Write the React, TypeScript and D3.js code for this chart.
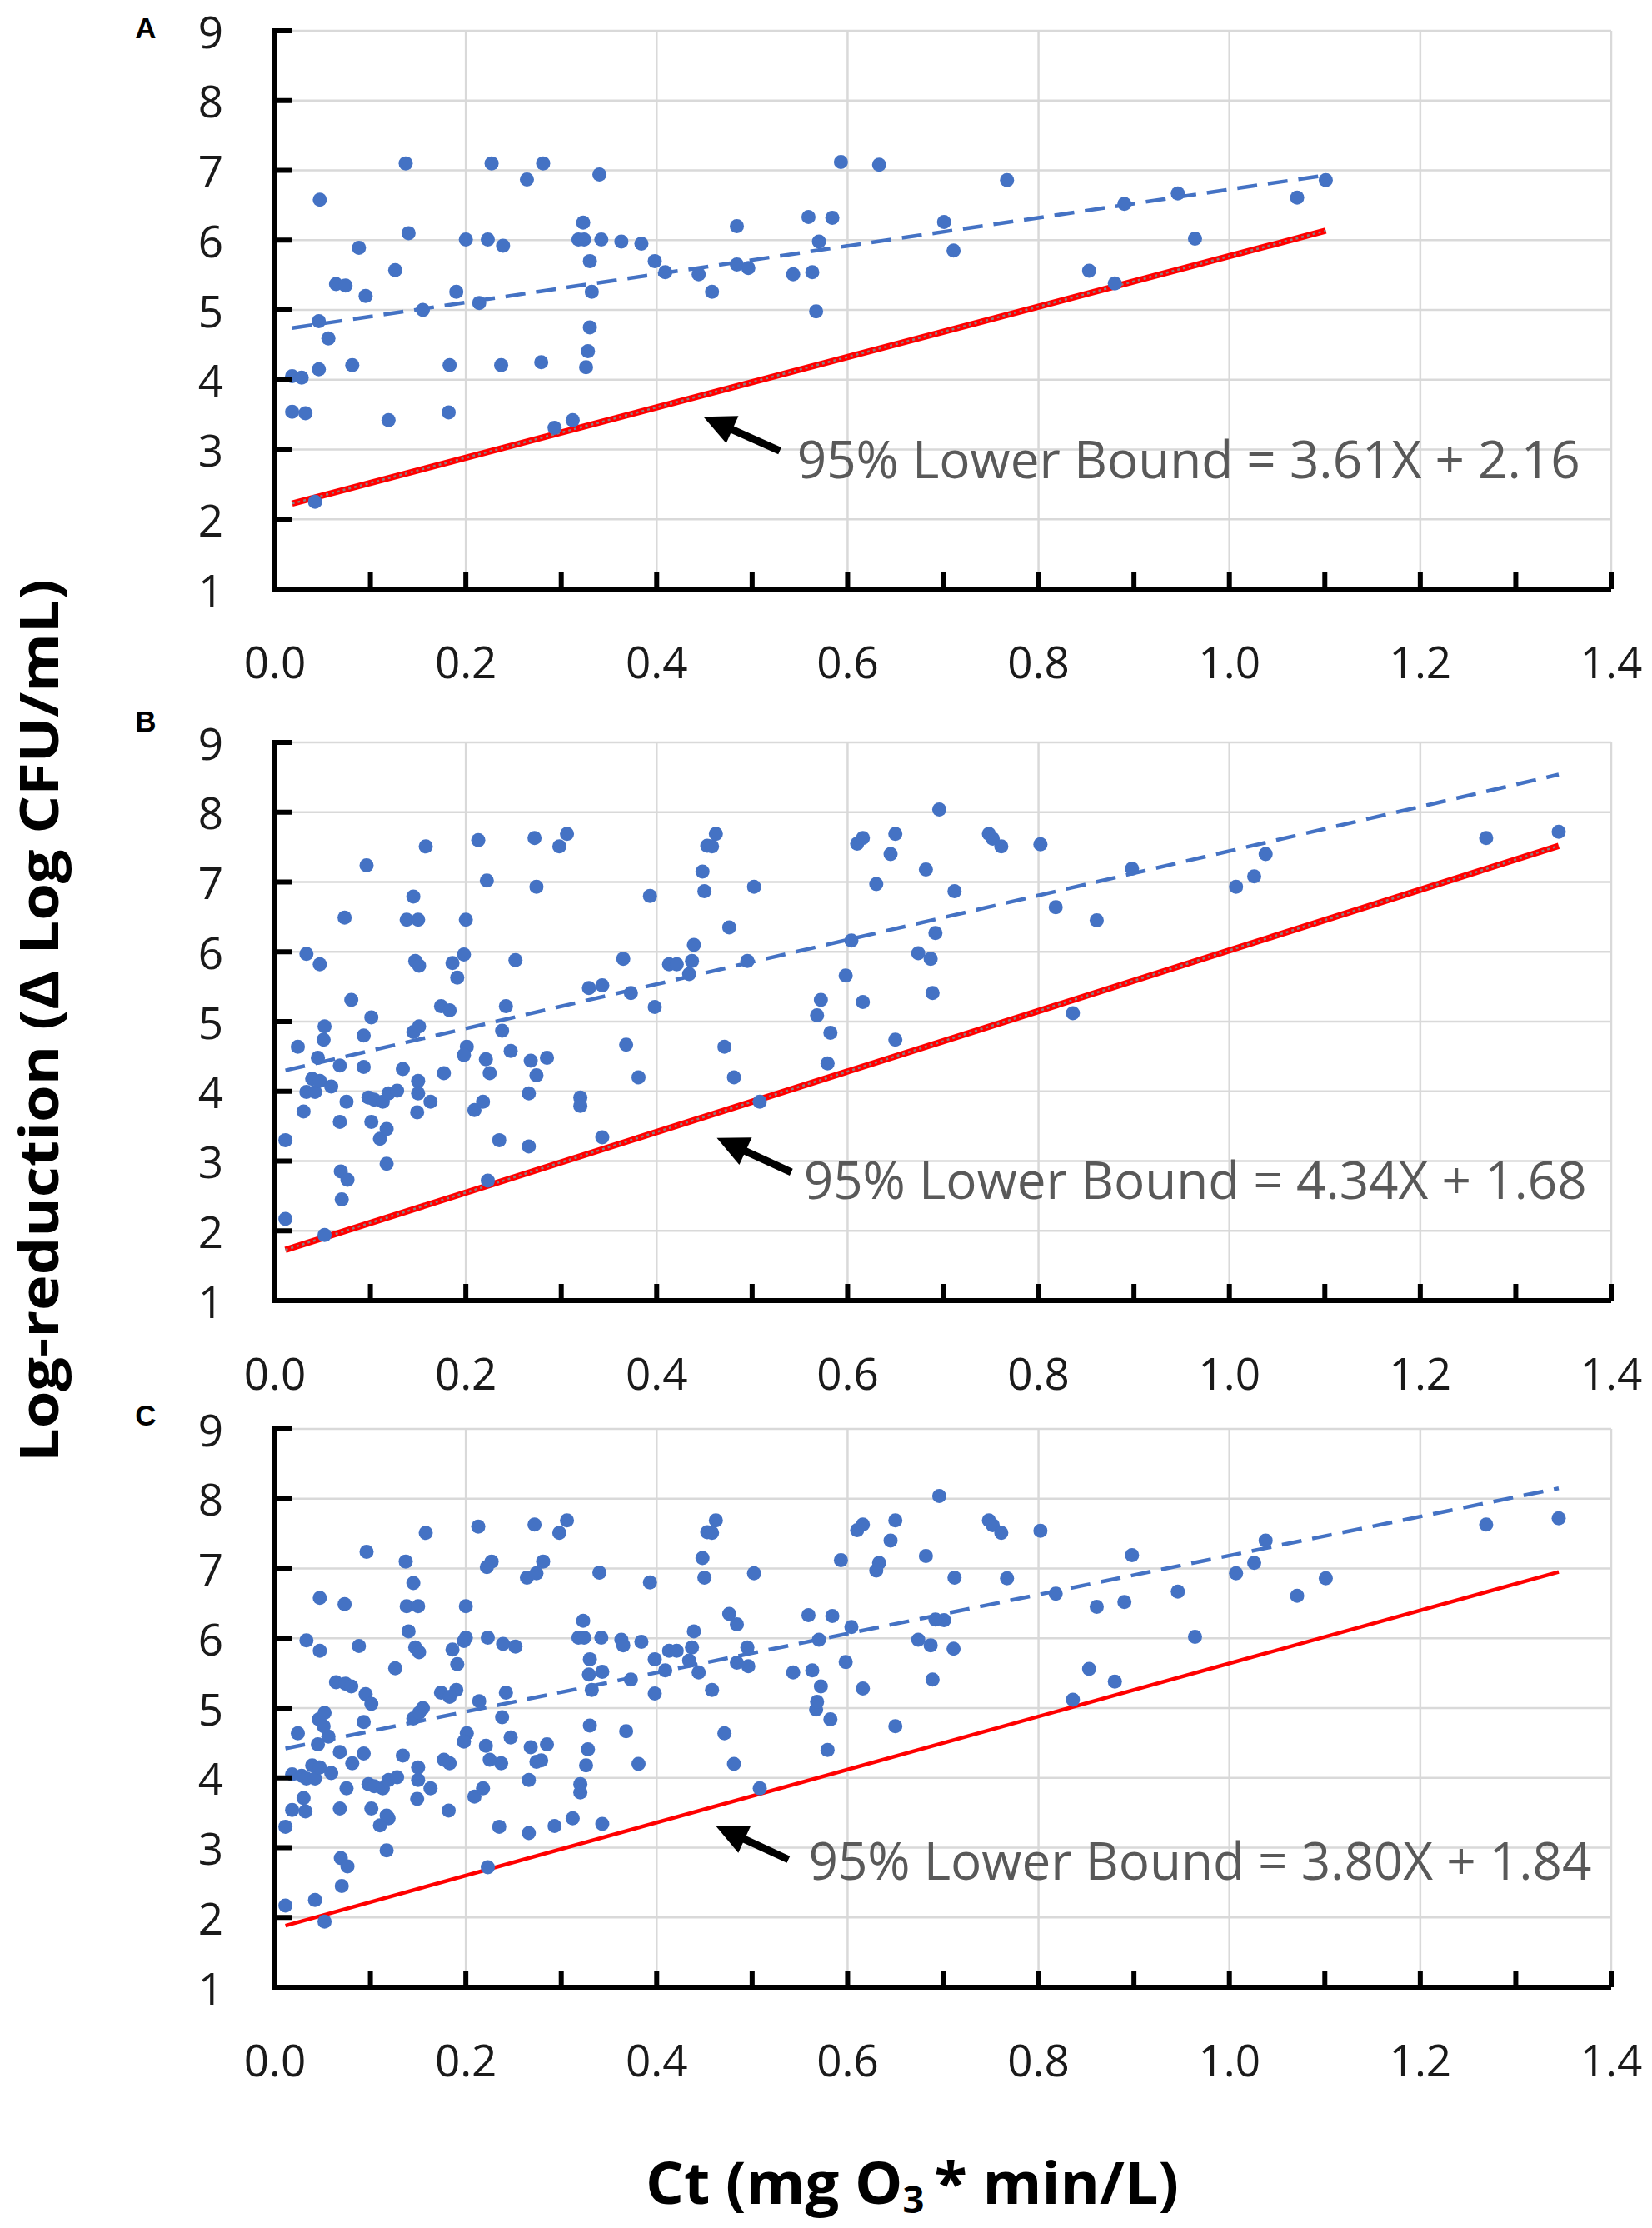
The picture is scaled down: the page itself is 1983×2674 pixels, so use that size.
import React from 'react';
import * as d3 from 'd3';

// Panel A: Ct values and log-reductions
const aCt = [
  0.018, 0.028, 0.018, 0.032, 0.042, 0.047, 0.046, 0.056, 0.046, 0.064,
  0.074, 0.081, 0.088, 0.095, 0.119, 0.126, 0.137, 0.140, 0.155, 0.182,
  0.183, 0.190, 0.200, 0.214, 0.223, 0.227, 0.239, 0.237, 0.264, 0.281,
  0.279, 0.293, 0.312, 0.318, 0.323, 0.324, 0.330, 0.330, 0.328, 0.326,
  0.332, 0.340, 0.342, 0.363, 0.384, 0.398, 0.409, 0.444, 0.458, 0.484,
  0.484, 0.496, 0.543, 0.559, 0.563, 0.567, 0.570, 0.584, 0.593, 0.633,
  0.701, 0.711, 0.767, 0.853, 0.880, 0.890, 0.946, 0.964, 1.071, 1.101,
];
const aLog = [
  4.05, 4.03, 3.54, 3.52, 2.25, 6.58, 4.84, 4.59, 4.15, 5.37,
  5.35, 4.21, 5.89, 5.20, 3.42, 5.57, 7.10, 6.10, 5.00, 3.53,
  4.21, 5.26, 6.01, 5.10, 6.01, 7.10, 5.92, 4.21, 6.87, 7.10,
  4.25, 3.31, 3.42, 6.01, 6.25, 6.01, 5.70, 4.75, 4.41, 4.18,
  5.26, 6.94, 6.01, 5.98, 5.95, 5.70, 5.54, 5.51, 5.26, 6.20,
  5.65, 5.60, 5.51, 6.33, 5.54, 4.98, 5.98, 6.32, 7.12, 7.08,
  6.26, 5.85, 6.86, 5.56, 5.38, 6.52, 6.67, 6.02, 6.61, 6.86,
];

// Panel B
const bCt = [
  0.011, 0.011, 0.024, 0.033, 0.030, 0.033, 0.042, 0.039, 0.045, 0.047,
  0.047, 0.051, 0.052, 0.052, 0.059, 0.068, 0.068, 0.069, 0.076, 0.070,
  0.073, 0.075, 0.080, 0.093, 0.093, 0.096, 0.098, 0.101, 0.101, 0.104,
  0.110, 0.113, 0.117, 0.117, 0.119, 0.128, 0.134, 0.138, 0.145, 0.150,
  0.147, 0.151, 0.145, 0.151, 0.150, 0.150, 0.149, 0.158, 0.163, 0.174,
  0.183, 0.177, 0.186, 0.191, 0.198, 0.200, 0.201, 0.198, 0.209, 0.218,
  0.213, 0.222, 0.221, 0.225, 0.223, 0.235, 0.238, 0.242, 0.247, 0.252,
  0.266, 0.266, 0.268, 0.274, 0.272, 0.274, 0.285, 0.298, 0.306, 0.320,
  0.320, 0.329, 0.343, 0.343, 0.365, 0.368, 0.373, 0.381, 0.393, 0.398,
  0.413, 0.421, 0.434, 0.437, 0.439, 0.448, 0.450, 0.453, 0.458, 0.462,
  0.471, 0.476, 0.481, 0.495, 0.502, 0.508, 0.568, 0.572, 0.582, 0.579,
  0.598, 0.604, 0.610, 0.616, 0.616, 0.630, 0.645, 0.650, 0.650, 0.674,
  0.682, 0.687, 0.692, 0.689, 0.696, 0.712, 0.748, 0.752, 0.761, 0.802,
  0.818, 0.836, 0.861, 0.898, 1.007, 1.026, 1.038, 1.269, 1.345,
];
const bLog = [
  3.30, 2.17, 4.64, 5.97, 3.71, 3.99, 3.99, 4.18, 4.48, 4.15,
  5.82, 4.74, 4.93, 1.94, 4.07, 4.37, 3.56, 2.85, 2.73, 2.45,
  6.49, 3.85, 5.31, 4.80, 4.35, 7.24, 3.91, 5.06, 3.56, 3.88,
  3.32, 3.85, 3.46, 2.96, 3.97, 4.01, 4.32, 6.46, 6.79, 6.46,
  5.87, 5.80, 4.85, 4.93, 4.15, 3.97, 3.70, 7.51, 3.85, 5.22,
  5.16, 4.26, 5.84, 5.63, 5.96, 6.46, 4.64, 4.52, 3.73, 3.85,
  7.60, 7.02, 4.46, 4.26, 2.72, 3.30, 4.87, 5.22, 4.58, 5.88,
  3.97, 3.21, 4.44, 4.23, 7.63, 6.93, 4.48, 7.51, 7.69, 3.91,
  3.79, 5.48, 5.52, 3.34, 5.90, 4.67, 5.41, 4.20, 6.80, 5.21,
  5.82, 5.82, 5.68, 5.87, 6.10, 7.15, 6.87, 7.52, 7.51, 7.69,
  4.64, 6.35, 4.20, 5.87, 6.93, 3.85, 5.09, 5.31, 4.84, 4.40,
  5.66, 6.16, 7.55, 7.63, 5.28, 6.97, 7.40, 7.69, 4.74, 5.98,
  7.18, 5.90, 6.27, 5.41, 8.04, 6.87, 7.69, 7.62, 7.51, 7.54,
  6.64, 5.12, 6.45, 7.19, 6.93, 7.08, 7.40, 7.63, 7.72,
];

// Panel C pools A and B
const cCt = [...aCt, ...bCt];
const cLog = [...aLog, ...bLog];

const panelNames = ['A', 'B', 'C'];
const boundSlopes = [3.61, 4.34, 3.8];
const boundIntercepts = [2.16, 1.68, 1.84];
const boundLabels = [
  '95% Lower Bound = 3.61X + 2.16',
  '95% Lower Bound = 4.34X + 1.68',
  '95% Lower Bound = 3.80X + 1.84',
];
// dashed trend line: value at first and last Ct
const trendStart = [4.74, 4.3, 4.42];
const trendEnd = [6.93, 8.54, 8.15];

const xTicks = [0, 0.2, 0.4, 0.6, 0.8, 1.0, 1.2, 1.4];
const xMinorTicks = d3.range(1, 15).map((i) => i / 10);
const yTicks = [1, 2, 3, 4, 5, 6, 7, 8, 9];

// layout
const W = 1983;
const H = 2674;
const LEFT = 330;
const RIGHT = 1934;
const PANEL_H = 670;
const panelTops = [37, 891, 1715];
const letterBaselines = [46, 878, 1711];
const dottedBound = [true, true, false];
const arrowTip = [[0.449, 3.47], [0.463, 3.33], [0.462, 3.31]];
const arrowTail = [[0.529, 2.98], [0.541, 2.84], [0.538, 2.83]];
const labelPos = [[0.547, 2.87], [0.554, 2.74], [0.559, 2.83]];

const BLUE = '#4472C4';
const FONT = '"Open Sans", "Liberation Sans", sans-serif';

function Arrow({ x1, y1, x2, y2 }: { x1: number; y1: number; x2: number; y2: number }) {
  // x1,y1 tail ; x2,y2 tip
  const ang = Math.atan2(y2 - y1, x2 - x1);
  const headLen = 38;
  const headHalf = 18;
  const bx = x2 - headLen * Math.cos(ang);
  const by = y2 - headLen * Math.sin(ang);
  const px = -Math.sin(ang);
  const py = Math.cos(ang);
  const pts = [
    [x2, y2],
    [bx + px * headHalf, by + py * headHalf],
    [bx - px * headHalf, by - py * headHalf],
  ];
  return (
    <g>
      <line x1={x1} y1={y1} x2={bx + 2 * Math.cos(ang)} y2={by + 2 * Math.sin(ang)} stroke="#000" strokeWidth={9} />
      <polygon points={pts.map((p) => p.join(',')).join(' ')} fill="#000" />
    </g>
  );
}

function Panel({ idx, xs, ys }: { idx: number; xs: number[]; ys: number[] }) {
  const top = panelTops[idx];
  const bottom = top + PANEL_H;
  const x = d3.scaleLinear().domain([0, 1.4]).range([LEFT, RIGHT]);
  const y = d3.scaleLinear().domain([1, 9]).range([bottom, top]);
  const [xMin, xMax] = d3.extent(xs) as [number, number];
  const bound = (v: number) => boundSlopes[idx] * v + boundIntercepts[idx];

  return (
    <g>
      {/* grid */}
      {yTicks.slice(1).map((t) => (
        <line key={'gy' + t} x1={LEFT} x2={RIGHT} y1={y(t)} y2={y(t)} stroke="#d9d9d9" strokeWidth={2.5} />
      ))}
      {xTicks.slice(1).map((t) => (
        <line key={'gx' + t} x1={x(t)} x2={x(t)} y1={top} y2={bottom} stroke="#d9d9d9" strokeWidth={2.5} />
      ))}

      {/* dashed trend */}
      <line
        x1={x(xMin)} y1={y(trendStart[idx])} x2={x(xMax)} y2={y(trendEnd[idx])}
        stroke={BLUE} strokeWidth={4.5} strokeDasharray="24 13"
      />

      {/* lower bound */}
      <line
        x1={x(xMin)} y1={y(bound(xMin))} x2={x(xMax)} y2={y(bound(xMax))}
        stroke="#ff0000" strokeWidth={dottedBound[idx] ? 7.5 : 4.5}
      />
      {dottedBound[idx] && (
        <line
          x1={x(xMin)} y1={y(bound(xMin))} x2={x(xMax)} y2={y(bound(xMax))}
          stroke="#8c7f7f" strokeWidth={2.5} strokeDasharray="3 4"
        />
      )}

      {/* points */}
      {xs.map((v, i) => (
        <circle key={i} cx={x(v)} cy={y(ys[i])} r={8.5} fill={BLUE} />
      ))}

      {/* axes */}
      <line x1={LEFT} x2={RIGHT} y1={bottom} y2={bottom} stroke="#000" strokeWidth={6} />
      <line x1={LEFT} x2={LEFT} y1={top - 3} y2={bottom + 3} stroke="#000" strokeWidth={6} />
      {xMinorTicks.map((t) => (
        <line key={'tx' + t} x1={x(t)} x2={x(t)} y1={bottom} y2={bottom - 20} stroke="#000" strokeWidth={6} />
      ))}
      {yTicks.slice(1).map((t) => (
        <line key={'ty' + t} x1={LEFT} x2={LEFT + 20} y1={y(t)} y2={y(t)} stroke="#000" strokeWidth={6} />
      ))}

      {/* tick labels */}
      {xTicks.map((t) => (
        <text key={'lx' + t} x={x(t)} y={bottom + 86} textAnchor="middle" dominantBaseline="central"
          fontFamily={FONT} fontSize={53} fill="#1a1a1a">
          {d3.format('.1f')(t)}
        </text>
      ))}
      {yTicks.map((t) => (
        <text key={'ly' + t} x={253} y={y(t)} textAnchor="middle" dominantBaseline="central"
          fontFamily={FONT} fontSize={53} fill="#1a1a1a">
          {t}
        </text>
      ))}

      {/* panel letter */}
      <text x={175} y={letterBaselines[idx]} textAnchor="middle" fontFamily='"Liberation Sans", Arial, sans-serif'
        fontWeight="bold" fontSize={35} fill="#000">
        {panelNames[idx]}
      </text>

      {/* annotation */}
      <Arrow
        x1={x(arrowTail[idx][0])} y1={y(arrowTail[idx][1])}
        x2={x(arrowTip[idx][0])} y2={y(arrowTip[idx][1])}
      />
      <text x={x(labelPos[idx][0])} y={y(labelPos[idx][1])} dominantBaseline="central"
        fontFamily={FONT} fontSize={62} fill="#595959">
        {boundLabels[idx]}
      </text>
    </g>
  );
}

export default function App() {
  const panels = [
    { xs: aCt, ys: aLog },
    { xs: bCt, ys: bLog },
    { xs: cCt, ys: cLog },
  ];
  return (
    <svg width={W} height={H} viewBox={`0 0 ${W} ${H}`}
      style={{ position: 'absolute', left: 0, top: 0, background: '#fff' }}>
      <rect width={W} height={H} fill="#fff" />
      {panels.map((p, i) => (
        <Panel key={i} idx={i} xs={p.xs} ys={p.ys} />
      ))}
      <text transform="translate(70,1225) rotate(-90)" textAnchor="middle"
        fontFamily={FONT} fontWeight="bold" fontSize={65} fill="#000"
        textLength={1060} lengthAdjust="spacingAndGlyphs">
        Log-reduction (Δ Log CFU/mL)
      </text>
      <text x={1095} y={2645} textAnchor="middle" fontFamily={FONT} fontWeight="bold"
        fontSize={70} fill="#000" textLength={640} lengthAdjust="spacingAndGlyphs">
        <tspan>Ct (mg O</tspan>
        <tspan fontSize={44} dy={11}>3</tspan>
        <tspan dy={-11}>{'\u2009* min/L)'}</tspan>
      </text>
    </svg>
  );
}
